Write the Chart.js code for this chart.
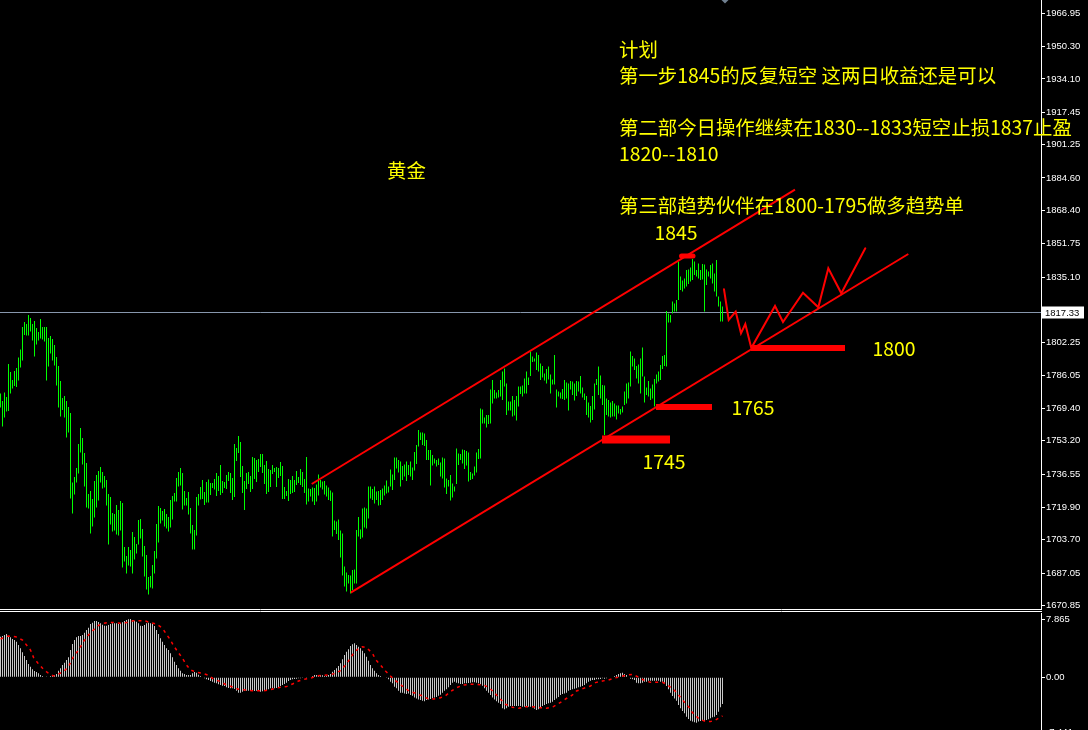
<!DOCTYPE html>
<html><head><meta charset="utf-8">
<script src="https://cdn.jsdelivr.net/npm/chart.js@4.4.1/dist/chart.umd.min.js"></script>
<style>
html,body{margin:0;padding:0;background:#000;overflow:hidden;width:1088px;height:730px}
#c1{position:absolute;left:0;top:0}
#c2{position:absolute;left:0;top:613px}
</style></head><body>
<canvas id="c1" width="1088" height="613"></canvas>
<canvas id="c2" width="1088" height="130"></canvas>
<script>
// ---------- DATA ----------
const hi = [
1776.9,1773.1,1777.4,1775.1,1791.6,1787.6,1783.6,1788.1,1789.6,1794.9,
1798.9,1810.1,1812.6,1811.6,1816.1,1814.6,1811.6,1813.1,1809.6,1807.6,
1814.1,1810.1,1810.1,1810.1,1804.6,1805.6,1804.1,1801.1,1795.1,1790.6,
1783.1,1774.6,1775.6,1773.1,1770.1,1767.1,1732.3,1735.1,1739.6,1751.6,
1759.6,1754.6,1747.1,1742.1,1726.6,1728.1,1724.1,1733.1,1736.1,1738.1,
1740.1,1737.6,1735.6,1733.6,1726.6,1725.1,1717.1,1716.6,1721.1,1718.6,
1723.1,1722.1,1700.1,1695.6,1700.1,1698.6,1707.6,1705.1,1701.6,1713.6,
1714.1,1709.1,1700.6,1696.1,1685.1,1685.6,1691.1,1698.1,1711.6,1720.6,
1719.6,1718.1,1719.1,1716.6,1715.1,1723.6,1725.6,1727.1,1734.6,1737.6,
1739.6,1737.1,1728.1,1724.6,1727.6,1719.6,1711.1,1708.6,1725.1,1726.6,
1730.1,1733.6,1727.6,1732.6,1733.9,1732.1,1732.1,1734.1,1737.1,1735.6,
1741.1,1733.1,1732.6,1736.1,1737.6,1737.1,1734.6,1751.6,1749.6,1755.6,
1752.6,1740.6,1733.1,1737.1,1737.6,1735.6,1745.1,1744.6,1743.6,1744.1,
1746.6,1746.6,1741.1,1743.1,1739.1,1738.6,1741.1,1739.6,1740.1,1739.6,
1742.6,1740.6,1730.1,1728.1,1734.1,1733.6,1735.6,1733.6,1738.1,1735.1,
1739.1,1737.6,1734.1,1745.1,1729.4,1729.1,1729.8,1729.6,1731.4,1736.4,
1733.6,1732.8,1733.1,1730.9,1729.8,1728.3,1727.3,1713.4,1712.8,1713.9,
1708.3,1706.9,1690.3,1687.3,1686.1,1685.8,1688.6,1688.9,1708.6,1715.1,
1708.8,1719.4,1719.8,1719.4,1730.3,1730.3,1729.1,1730.3,1727.8,1728.1,
1728.6,1729.4,1730.8,1733.4,1730.3,1738.8,1736.4,1744.9,1744.9,1743.6,
1742.8,1740.6,1741.4,1742.9,1741.1,1742.8,1739.9,1747.6,1751.1,1758.6,
1757.4,1757.4,1756.9,1753.6,1748.6,1748.6,1746.1,1744.4,1743.6,1744.4,
1742.3,1744.9,1744.4,1734.4,1733.6,1736.1,1731.9,1730.3,1749.3,1746.9,
1746.6,1748.9,1748.6,1748.1,1747.3,1737.6,1736.9,1740.3,1747.4,1749.1,
1769.4,1768.9,1764.9,1766.1,1766.1,1778.9,1783.6,1778.6,1777.3,1778.6,
1783.6,1787.8,1789.4,1781.9,1772.8,1772.8,1775.6,1773.6,1775.6,1780.3,
1780.3,1780.8,1784.4,1787.8,1784.8,1797.8,1795.3,1794.4,1797.4,1796.1,
1791.9,1790.6,1786.9,1789.1,1790.3,1786.4,1783.9,1796.1,1778.9,1777.8,
1777.4,1779.1,1783.6,1782.3,1781.9,1783.1,1782.8,1781.9,1783.1,1782.8,
1785.6,1779.8,1776.9,1775.6,1772.4,1770.6,1775.6,1781.9,1784.1,1790.3,
1785.8,1781.1,1780.8,1774.4,1773.6,1772.4,1773.1,1771.9,1770.8,1770.8,
1769.1,1770.3,1777.8,1781.9,1782.4,1797.8,1795.6,1794.4,1790.6,1791.4,
1794.4,1799.9,1785.3,1779.8,1783.1,1779.4,1781.4,1784.1,1786.4,1787.8,
1791.1,1795.6,1796.1,1818.1,1816.9,1816.1,1822.8,1821.9,1823.6,1842.8,
1835.3,1833.3,1834.4,1838.6,1838.9,1839.9,1844.1,1842.8,1838.6,1841.9,
1838.6,1841.6,1841.4,1838.9,1837.8,1841.1,1841.9,1836.9,1843.6,1825.3,
1822.8,1820.3];
const lo = [
1769.8,1760.3,1764.8,1767.8,1768.1,1776.8,1779.3,1780.6,1780.1,1783.3,
1789.8,1793.3,1806.1,1805.8,1805.8,1807.8,1803.3,1795.3,1801.3,1803.3,
1804.3,1803.9,1802.9,1783.3,1790.3,1796.8,1793.3,1790.8,1780.8,1769.8,
1765.3,1768.6,1764.8,1754.8,1757.3,1724.3,1716.8,1726.3,1732.3,1736.8,
1747.3,1741.3,1730.3,1719.8,1719.3,1706.8,1710.3,1714.8,1719.8,1723.3,
1732.3,1729.3,1729.8,1720.8,1701.3,1711.3,1707.8,1708.3,1706.3,1705.8,
1708.3,1689.8,1692.8,1686.8,1690.8,1690.3,1686.8,1693.8,1696.8,1701.3,
1704.3,1695.3,1685.3,1678.8,1676.3,1679.8,1679.3,1686.8,1694.3,1702.3,
1711.8,1713.3,1710.3,1709.3,1707.8,1709.8,1713.8,1722.8,1722.8,1730.3,
1730.8,1718.8,1720.8,1720.8,1716.3,1706.8,1698.8,1698.8,1705.8,1720.8,
1723.9,1724.1,1721.1,1722.3,1722.3,1726.1,1729.6,1728.8,1725.6,1728.1,
1726.1,1727.1,1729.6,1729.1,1733.1,1727.1,1723.6,1725.1,1743.1,1747.1,
1735.1,1727.1,1718.6,1729.1,1731.6,1727.6,1729.1,1734.1,1732.6,1737.6,
1740.1,1737.1,1731.6,1726.6,1727.6,1730.1,1736.6,1737.6,1730.1,1734.6,
1735.6,1724.1,1724.1,1725.6,1723.1,1726.6,1727.1,1727.6,1731.1,1732.1,
1731.1,1730.1,1727.1,1721.3,1722.8,1725.3,1722.8,1721.1,1722.8,1725.8,
1729.9,1728.9,1726.3,1725.3,1723.6,1723.1,1705.3,1708.6,1706.6,1703.6,
1694.8,1685.8,1680.3,1677.8,1681.8,1676.9,1678.6,1681.9,1681.9,1705.3,
1704.1,1704.9,1709.8,1709.4,1714.4,1724.4,1723.6,1721.9,1723.6,1720.8,
1721.1,1723.6,1725.8,1726.8,1727.4,1730.3,1728.6,1733.6,1739.4,1737.3,
1730.3,1733.6,1735.3,1733.1,1736.1,1735.3,1733.6,1738.3,1741.6,1750.3,
1753.6,1751.1,1750.6,1743.6,1743.6,1730.8,1740.9,1741.9,1740.3,1741.1,
1735.3,1734.3,1729.8,1726.6,1730.3,1723.4,1724.9,1727.8,1731.6,1741.1,
1743.6,1741.9,1739.1,1740.9,1732.8,1733.6,1734.1,1735.9,1737.3,1744.1,
1744.4,1761.9,1761.9,1759.9,1761.6,1761.9,1771.9,1774.3,1774.3,1774.9,
1775.3,1773.6,1780.3,1766.1,1768.3,1768.3,1765.3,1765.8,1763.3,1770.3,
1776.6,1775.3,1776.9,1776.9,1781.1,1785.6,1792.6,1792.8,1788.6,1787.8,
1783.6,1784.9,1783.3,1781.9,1783.9,1776.9,1781.4,1781.4,1769.8,1775.3,
1774.4,1774.1,1773.6,1774.4,1768.3,1778.9,1776.1,1773.3,1775.6,1777.8,
1776.9,1774.9,1773.6,1766.1,1764.9,1762.4,1763.6,1768.9,1781.1,1776.1,
1774.4,1771.1,1756.1,1766.1,1765.3,1764.8,1765.3,1765.3,1763.9,1766.9,
1766.4,1767.4,1771.1,1771.9,1774.4,1780.3,1790.3,1788.6,1784.4,1781.9,
1776.9,1785.3,1772.4,1776.1,1775.3,1773.6,1774.4,1770.3,1781.9,1782.8,
1783.6,1789.1,1790.6,1790.3,1812.4,1812.4,1816.9,1817.8,1817.8,1823.6,
1828.6,1827.8,1829.4,1830.3,1831.6,1832.8,1833.6,1836.1,1835.3,1834.4,
1833.6,1833.9,1817.8,1831.1,1835.3,1834.4,1831.9,1827.8,1825.3,1820.3,
1812.8,1812.8];
const macdHist = [
5.48,5.57,5.71,5.84,5.48,5.39,5.17,5.03,4.81,4.36,
3.91,3.37,2.88,2.34,1.80,1.44,1.08,0.85,0.72,0.54,
0.31,0.18,0.09,0.04,0.09,0.18,0.18,0.27,0.45,0.90,
1.21,1.66,1.97,2.34,2.69,3.68,4.49,5.03,5.39,5.57,
5.57,5.71,6.02,6.38,6.70,7.19,7.37,7.60,7.60,7.46,
7.28,7.10,6.97,6.97,7.06,7.19,7.28,7.28,7.28,7.19,
7.28,7.42,7.60,7.73,7.82,7.86,7.73,7.64,7.51,7.28,
6.97,6.92,7.06,7.28,7.37,7.28,7.19,6.92,6.38,5.84,
5.26,4.81,4.36,3.91,3.68,3.23,2.69,2.11,1.66,1.21,
0.90,0.54,0.45,0.31,0.31,0.31,0.54,0.72,0.63,0.36,
0.18,0,-0.14,-0.27,-0.36,-0.50,-0.59,-0.72,-0.81,-0.95,
-1.04,-1.13,-1.17,-1.35,-1.44,-1.49,-1.49,-1.58,-1.81,-2.08,
-2.08,-1.94,-1.81,-1.81,-1.81,-1.81,-1.85,-1.85,-1.81,-1.81,
-1.94,-1.89,-1.85,-1.71,-1.62,-1.49,-1.49,-1.49,-1.44,-1.35,
-1.17,-1.04,-0.90,-0.72,-0.50,-0.36,-0.27,-0.23,-0.18,-0.14,
-0.14,-0.09,-0.05,-0.09,0,0.09,0.18,0.31,0.31,0.31,
0.31,0.27,0.18,0.18,0.31,0.45,0.76,0.99,1.21,1.52,
1.88,2.43,3.01,3.46,3.77,4.22,4.45,4.58,4.36,4.13,
3.91,3.59,3.23,2.78,2.25,1.66,1.21,0.90,0.54,0.31,
0.18,0.09,0,-0.09,-0.27,-0.59,-0.81,-1.26,-1.49,-1.81,
-2.08,-2.08,-2.17,-2.27,-2.17,-2.40,-2.49,-2.72,-2.86,-2.99,
-3.08,-3.17,-3.22,-3.08,-2.99,-2.92,-2.83,-2.72,-2.65,-2.49,
-2.34,-2.08,-1.81,-1.62,-1.35,-1.04,-0.72,-0.59,-0.72,-0.81,
-0.90,-0.90,-0.81,-0.81,-0.77,-0.72,-0.68,-0.68,-0.72,-0.81,
-0.90,-1.13,-1.49,-1.81,-2.08,-2.40,-2.72,-2.99,-3.22,-3.42,
-3.60,-4.18,-4.32,-4.18,-3.96,-3.87,-3.87,-3.87,-3.87,-3.87,
-3.87,-3.96,-3.96,-3.96,-3.96,-3.96,-4.05,-4.23,-4.41,-4.32,
-4.05,-3.87,-3.74,-3.60,-3.51,-3.42,-3.29,-3.08,-2.86,-2.65,
-2.40,-2.27,-2.17,-2.08,-1.81,-1.71,-1.62,-1.53,-1.49,-1.35,
-1.26,-1.17,-1.04,-0.81,-0.59,-0.45,-0.36,-0.36,-0.27,-0.27,
-0.23,-0.14,-0.18,-0.14,-0.05,0,0.09,0.18,0.31,0.45,
0.54,0.63,0.45,0.31,0,-0.18,-0.27,-0.36,-0.72,-0.81,
-0.81,-0.72,-0.59,-0.59,-0.45,-0.45,-0.45,-0.45,-0.45,-0.45,
-0.59,-0.59,-0.72,-1.17,-1.62,-2.08,-2.52,-2.86,-3.17,-3.74,
-4.18,-4.55,-4.86,-5.31,-5.62,-5.85,-5.98,-6.07,-6.12,-5.98,
-5.89,-5.85,-5.85,-5.76,-5.67,-5.54,-5.40,-5.31,-5.08,-4.64,
-4.05,-3.60];
const sigIdx = [0,2.5,4,7.5,11,13,15,16.5,19,21.5,24,26.5,29,31.5,34,36.5,39,41.5,44,46.5,
49,51.5,54,57.5,61,63.5,66.5,69,72.5,75,78,81,83,85,86.5,89,91,93,95,98,
101,104,106.5,110,113,116.5,119,122.5,126,128.5,131,134,137.5,140,143,146,149,152.5,155,158,
161.5,165,167.5,170,173,176.5,179,181,183,186,187.5,190,192.5,195,197.5,
200,204,207.5,211,214,216.5,220,222.5,225,228,231.5,235,238,241.5,244,246.5,249,252.5,256,259,
262.5,266,270,273,276.5,280,282.5,286,288,291.5,295,297.5,301,304,306.5,310,313,316,318.5,321.5,
325,327.5,331,333,336.5,339,341.5,344,346,349,352.5,355,357.5,361];
const sigVal = [5.16,5.48,5.57,5.48,5.03,4.36,3.68,2.69,1.80,1.08,0.54,0.18,0.45,0.76,1.44,2.78,3.68,4.81,5.71,6.38,
7.01,7.28,7.42,7.37,7.28,7.42,7.64,7.64,7.60,7.37,7.19,6.61,5.80,5.03,4.27,3.32,2.56,1.66,0.99,0.67,
0.54,0.27,-0.23,-0.59,-1.04,-1.35,-1.62,-1.71,-1.80,-1.80,-1.85,-1.71,-1.49,-1.35,-1.26,-0.90,-0.50,-0.23,-0.14,0.18,
0.27,0.36,0.54,0.90,1.80,3.23,3.91,4.13,4.00,3.23,2.43,1.66,0.85,0.18,-0.45,
-1.0,-1.8,-2.16,-2.52,-2.93,-2.93,-2.75,-2.48,-1.94,-1.40,-1.04,-0.95,-0.95,-1.04,-1.35,-1.94,-2.70,-3.64,-4.05,-4.19,
-3.96,-3.96,-4.10,-4.19,-3.96,-3.38,-2.93,-2.39,-1.85,-1.49,-1.17,-0.72,-0.50,-0.36,-0.14,0.09,0.31,0.40,0.09,-0.36,
-0.68,-0.68,-0.68,-0.95,-1.62,-2.39,-3.20,-3.96,-4.77,-5.53,-5.98,-5.98,-5.76,-5.22];
const priceTicks = [1966.95,1950.30,1934.10,1917.45,1901.25,1884.60,1868.40,1851.75,1835.10,1802.25,1786.05,1769.40,1753.20,1736.55,1719.90,1703.70,1687.05,1670.85];
const macdTicks = [7.865,0,-7.441];
const macdTickLabels = ['7.865','0.00','-7.441'];
const bidPrice = 1817.33;
// analysis drawings, in (bar index, price)
const upperChannel = [[155.6,1731.6],[397.25,1878.8]];
const lowerChannel = [[175.1,1677.25],[453.9,1846.6]];
const forecastPath = [[361.75,1828.95],[364.1,1813.6],[367.6,1817.75],[370.25,1806.95],[372.4,1811.6],[375.4,1799.6],[387.25,1820.6],[391.25,1812.6],[401.25,1827.25],[408.9,1819.95],[413.9,1839.45],[420.4,1826.95],[432.4,1849.45]];
const levelPrice = [1753.85,1770.1,1799.6,1845.55];
const levelFrom = [300.75,327.75,375.25,340.5];
const levelTo = [334.75,355.75,422.25,346.25];
const levelLabels = ['1745','1765','1800','1845'];
const planLines = ['计划','第一步1845的反复短空 这两日收益还是可以','','第二部今日操作继续在1830--1833短空止损1837止盈','1820--1810','','第三部趋势伙伴在1800-1795做多趋势单'];
const titleText = '黄金';

// ---------- STYLE / LAYOUT ----------
const levelWidth = [8,6,6,5];
const levelCap = ['butt','butt','butt','round'];
const labelPos = [[331.75,1742.6],[376.25,1769.6],[446.75,1799.45],[337.75,1857.1]];
const titlePos = [203,1888.1];
const planPos = [309.25,1948.6];
const CJK = '"Noto Sans CJK SC","Noto Sans",sans-serif';
const AX = '"Liberation Sans","DejaVu Sans",sans-serif';
const XMIN = -0.25, XMAX = 520.25;

function lineDs(pts, w, cap){
  return {type:'line', data: pts.map(p=>({x:p[0], y:p[1]})), borderColor:'#ff0000', borderWidth:w,
    borderCapStyle:cap||'butt', pointRadius:0, fill:false, tension:0, order:0};
}
const yAxisCommon = {
  position:'right',
  grid:{display:true, drawOnChartArea:false, drawTicks:true, tickLength:4, color:'#ffffff', lineWidth:1},
  border:{display:true, color:'#ffffff', width:1},
  afterFit(s){ s.width = 47; s.paddingTop = 0; s.paddingBottom = 0; }
};

const mainDeco = {
  id:'mainDeco',
  beforeDatasetsDraw(chart){
    const {ctx, chartArea:a, scales:{y}} = chart;
    const py = Math.floor(y.getPixelForValue(bidPrice)) + 0.5;
    ctx.save();
    ctx.strokeStyle = '#8797ad'; ctx.lineWidth = 1;
    ctx.beginPath(); ctx.moveTo(a.left, py); ctx.lineTo(a.right, py); ctx.stroke();
    ctx.restore();
  },
  afterDraw(chart){
    const {ctx, chartArea:a, scales:{x, y}} = chart;
    ctx.save();
    ctx.strokeStyle = '#ffffff'; ctx.lineWidth = 1;
    ctx.beginPath();
    ctx.moveTo(0, a.bottom + 0.5); ctx.lineTo(a.right + 1, a.bottom + 0.5);
    ctx.moveTo(0, a.bottom + 2.5); ctx.lineTo(a.right + 1, a.bottom + 2.5);
    ctx.stroke();
    const py = Math.floor(y.getPixelForValue(bidPrice)) + 0.5;
    ctx.fillStyle = '#ffffff';
    ctx.fillRect(a.right + 1, py - 6, 42, 12);
    ctx.fillStyle = '#000000';
    ctx.font = '9.5px ' + AX; ctx.textBaseline = 'middle'; ctx.textAlign = 'left';
    ctx.fillText(bidPrice.toFixed(2), a.right + 4, py + 0.5);
    const mx = x.getPixelForValue(hi.length + 0.25);
    ctx.fillStyle = '#708090';
    ctx.beginPath(); ctx.moveTo(mx - 3.5, 0); ctx.lineTo(mx + 3.5, 0); ctx.lineTo(mx, 3.5); ctx.closePath(); ctx.fill();
    ctx.fillStyle = '#ffff00';
    ctx.font = '19.4px ' + CJK;
    ctx.textBaseline = 'middle';
    ctx.textAlign = 'center';
    ctx.fillText(titleText, x.getPixelForValue(titlePos[0]), y.getPixelForValue(titlePos[1]));
    levelLabels.forEach((t, k) => ctx.fillText(t, x.getPixelForValue(labelPos[k][0]), y.getPixelForValue(labelPos[k][1])));
    ctx.textAlign = 'left';
    const px0 = x.getPixelForValue(planPos[0]), py0 = y.getPixelForValue(planPos[1]);
    planLines.forEach((t, k) => { if (t) ctx.fillText(t, px0, py0 + k * 26); });
    ctx.restore();
  }
};

const mainDatasets = [
  {type:'bar', data: hi.map((h,i)=>({x:i, y:[lo[i], h]})), backgroundColor:'#00ff00', borderWidth:0,
   barThickness:1, inflateAmount:0, order:10},
  lineDs(upperChannel, 2),
  lineDs(lowerChannel, 2),
  lineDs(forecastPath, 2, 'round'),
];
levelPrice.forEach((p,k)=>{
  mainDatasets.push(lineDs([[levelFrom[k], p],[levelTo[k], p]], levelWidth[k], levelCap[k]));
});

new Chart(document.getElementById('c1'), {
  type:'bar',
  data:{datasets: mainDatasets},
  options:{
    responsive:false, animation:false, events:[],
    layout:{padding:{left:0, right:0, top:0, bottom:4}},
    plugins:{legend:{display:false}, tooltip:{enabled:false}},
    scales:{
      x:{type:'linear', min:XMIN, max:XMAX, display:false, offset:false},
      y:Object.assign({}, yAxisCommon, {
        min:1669.1, max:1973.6,
        afterBuildTicks(s){ s.ticks = priceTicks.map(v=>({value:v})); },
        ticks:{autoSkip:false, color:'#ffffff', padding:1, font:{family:AX, size:9.5}, callback:v=>Number(v).toFixed(2)}
      })
    }
  },
  plugins:[mainDeco]
});

new Chart(document.getElementById('c2'), {
  type:'bar',
  data:{datasets:[
    {type:'bar', data: macdHist.map((v,i)=>({x:i, y:v})), backgroundColor:'#c8c8c8', borderWidth:0,
     barThickness:1, inflateAmount:0, order:10},
    {type:'line', data: sigIdx.map((v,k)=>({x:v, y:sigVal[k]})), borderColor:'#ff0000', borderWidth:1.5,
     borderDash:[3,4], pointRadius:0, fill:false, tension:0, order:0}
  ]},
  options:{
    responsive:false, animation:false, events:[],
    layout:{padding:0},
    plugins:{legend:{display:false}, tooltip:{enabled:false}},
    scales:{
      x:{type:'linear', min:XMIN, max:XMAX, display:false, offset:false},
      y:Object.assign({}, yAxisCommon, {
        min:-8.866, max:8.677,
        afterBuildTicks(s){ s.ticks = macdTicks.map(v=>({value:v})); },
        ticks:{autoSkip:false, color:'#ffffff', padding:1, font:{family:AX, size:9.5},
          callback:(v)=>{ const k = macdTicks.indexOf(Number(v)); return k >= 0 ? macdTickLabels[k] : ''; }}
      })
    }
  }
});
</script>
</body></html>
